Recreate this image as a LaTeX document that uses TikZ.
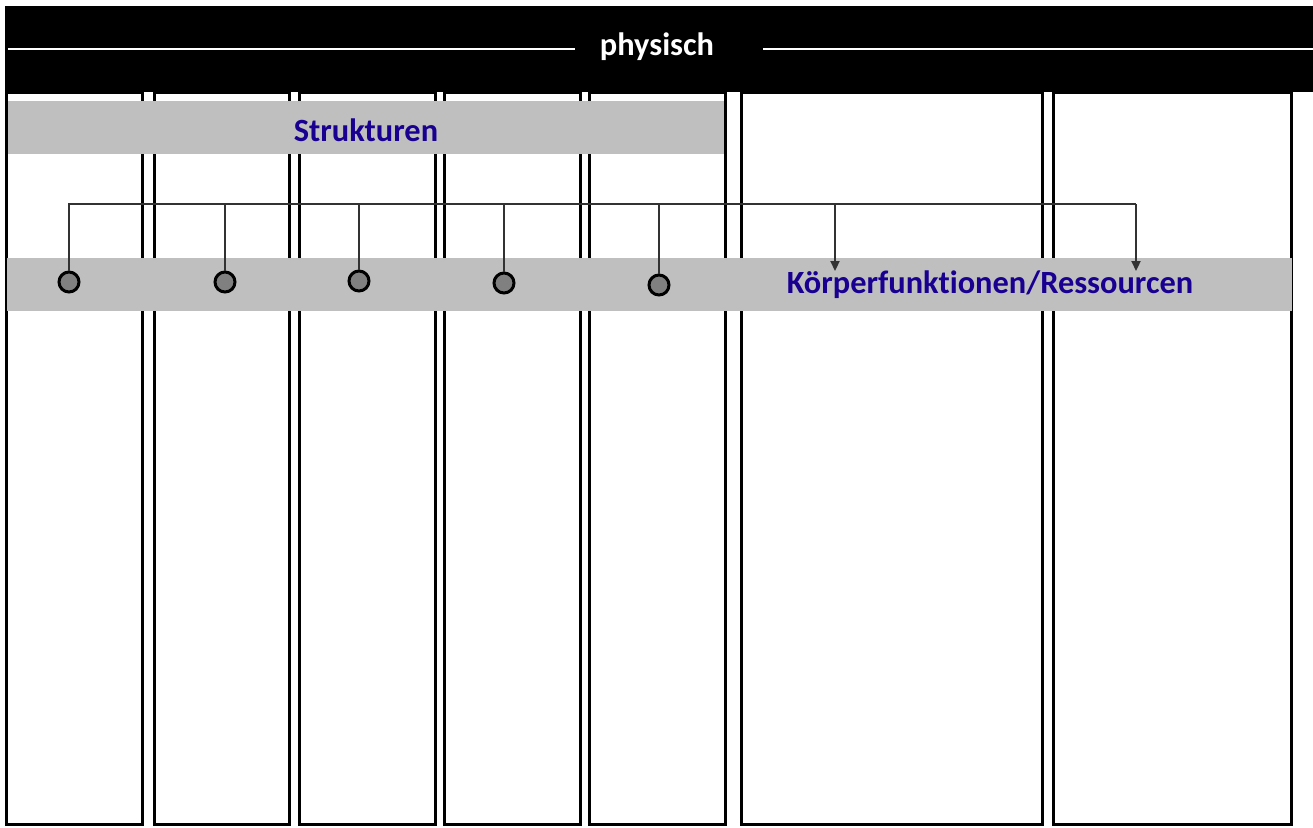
\documentclass[tikz,border=0pt]{standalone}
\usepackage{fontspec}
\setmainfont{Carlito}[RawFeature=-liga]
\usepackage{tikz}
\usepackage{xcolor}
\usetikzlibrary{
    arrows.meta,
    calc,
    positioning
}
\definecolor{barGray}{RGB}{191,191,191}
\definecolor{labelBlue}{RGB}{26,0,145}
\definecolor{wireGray}{RGB}{50,50,50}
\definecolor{dotGray}{RGB}{128,128,128}

\begin{document}
\begin{tikzpicture}[x=0.5pt, y=-0.5pt,
    column/.style={draw=black, line width=1.5pt, fill=white},
    bar/.style={fill=barGray, draw=none},
    label/.style={font=\bfseries\fontsize{16.2}{19}\selectfont, text=labelBlue},
    link/.style={draw=wireGray, line width=1.1pt},
    dot/.style={circle, draw=black, line width=1.5pt, fill=dotGray, minimum size=10pt, inner sep=0pt}]
                                \useasboundingbox (0,0) rectangle (1313,827);
                                % columns
                                \foreach \l/\r in {6/142, 154/289, 299/435, 444/580, 589/725, 741/1042, 1053/1291}
                                    \draw[column] (\l,92) rectangle (\r,824.5);
                                % header
                                \fill[black] (5,6) rectangle (1313,92);
                                \node[font=\bfseries\fontsize{16.2}{19}\selectfont, text=white] (phys) at (657,47) {physisch};
                                \draw[white, line width=0.6pt] (8,49) -- (575,49) (763,49) -- (1313,49);
                                % bars
                                \fill[bar] (8,101) rectangle (724,154);
                                \node[label] (struk) at (366,130) {Strukturen};
                                \fill[bar] (7,258) rectangle (1292,311);
                                \node[label] (koerper) at (990,285) {Körperfunktionen/Ressourcen};
                                % connectors
                                \coordinate (busL) at (68,204);
                                \coordinate (busR) at (1136,204);
                                \coordinate (k1) at (835,271);
                                \coordinate (k2) at (1136,271);
                                \node[dot] (c1) at (69,282) {};
                                \node[dot] (c2) at (225,282) {};
                                \node[dot] (c3) at (359,281) {};
                                \node[dot] (c4) at (504,283) {};
                                \node[dot] (c5) at (659,285) {};
                                \draw[link] (busL) -- (busR);
                                \foreach \i in {1,...,5}
                                    \draw[link] (c\i.north) -- (c\i.north |- busL);
                                \draw[link, -{Triangle[length=5pt, width=4.5pt]}] (k1 |- busL) -- (k1);
                                \draw[link, -{Triangle[length=5pt, width=4.5pt]}] (busR) -- (k2);
                            \end{tikzpicture}
\end{document}
